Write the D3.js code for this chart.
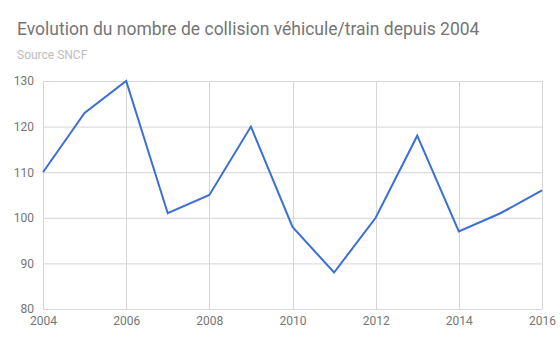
<!DOCTYPE html>
<html>
<head>
<meta charset="utf-8">
<script src="https://cdn.jsdelivr.net/npm/d3@7"></script>
<style>
  body { margin: 0; background: #fff; }
  svg { display: block; font-family: Roboto, 'Noto Sans', Arial, sans-serif; }
</style>
</head>
<body>
<script>
const years = [2004, 2005, 2006, 2007, 2008, 2009, 2010, 2011, 2012, 2013, 2014, 2015, 2016];
const collisions = [110, 123, 130, 101, 105, 120, 98, 88, 100, 118, 97, 101, 106];
const xTicks = [2004, 2006, 2008, 2010, 2012, 2014, 2016];
const yTicks = [80, 90, 100, 110, 120, 130];

const width = 560, height = 346;
const margin = {top: 81, right: 18, bottom: 37, left: 43};

const svg = d3.select("body")
  .append("svg")
  .attr("width", width)
  .attr("height", height);

svg.append("text")
  .attr("x", 17)
  .attr("y", 35)
  .attr("font-size", "17.5px")
  .attr("fill", "#757575")
  .text("Evolution du nombre de collision véhicule/train depuis 2004");

svg.append("text")
  .attr("x", 17)
  .attr("y", 59)
  .attr("font-size", "12px")
  .attr("fill", "#bdbdbd")
  .text("Source SNCF");

const x = d3.scaleLinear()
  .domain([2004, 2016])
  .range([margin.left, width - margin.right]);

const y = d3.scaleLinear()
  .domain([80, 130])
  .range([height - margin.bottom, margin.top]);

// grid
svg.append("g")
  .selectAll("line")
  .data(yTicks)
  .join("line")
  .attr("x1", margin.left)
  .attr("x2", width - margin.right)
  .attr("y1", d => y(d) + 0.5)
  .attr("y2", d => y(d) + 0.5)
  .attr("stroke", "#d6d6d6")
  .attr("stroke-width", 1);

svg.append("g")
  .selectAll("line")
  .data(xTicks)
  .join("line")
  .attr("x1", d => Math.round(x(d)) + 0.5)
  .attr("x2", d => Math.round(x(d)) + 0.5)
  .attr("y1", margin.top)
  .attr("y2", height - margin.bottom)
  .attr("stroke", "#d6d6d6")
  .attr("stroke-width", 1);

// axes labels
const yAxis = svg.append("g")
  .attr("transform", `translate(${margin.left - 9},0)`)
  .call(d3.axisLeft(y).tickValues(yTicks).tickSize(0).tickPadding(0));
yAxis.select(".domain").remove();
yAxis.selectAll("text")
  .attr("font-size", 12)
  .attr("font-family", "Roboto, 'Noto Sans', Arial, sans-serif")
  .attr("fill", "#757575");

const xAxis = svg.append("g")
  .attr("transform", `translate(0,${height - margin.bottom + 7})`)
  .call(d3.axisBottom(x).tickValues(xTicks).tickFormat(d3.format("d")).tickSize(0).tickPadding(0));
xAxis.select(".domain").remove();
xAxis.selectAll("text")
  .attr("font-size", 12)
  .attr("font-family", "Roboto, 'Noto Sans', Arial, sans-serif")
  .attr("fill", "#757575");

// line
const line = d3.line()
  .x((d, i) => x(years[i]))
  .y(d => y(d));

svg.append("path")
  .datum(collisions)
  .attr("fill", "none")
  .attr("stroke", "#3b6fd6")
  .attr("stroke-width", 2)
  .attr("stroke-linejoin", "miter")
  .attr("d", line);
</script>
</body>
</html>
